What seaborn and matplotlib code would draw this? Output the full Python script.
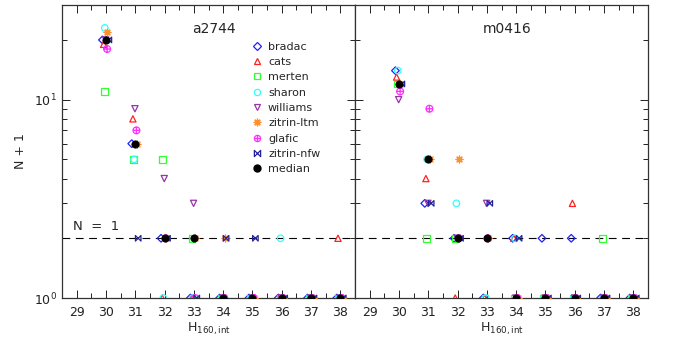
import numpy as np
import pandas as pd
import matplotlib
matplotlib.use("Agg")
import matplotlib.pyplot as plt
from matplotlib.path import Path
from matplotlib.lines import Line2D
from matplotlib.ticker import LogLocator, NullFormatter, MultipleLocator
import seaborn as sns

sns.set_style("ticks")
plt.rcParams['font.family'] = ['DejaVu Sans']

# ---------------- data (values are N + 1) ----------------
mags = [30, 31, 32, 33, 34, 35, 36, 37, 38]
models = ["bradac", "cats", "merten", "sharon", "williams",
          "zitrin-ltm", "glafic", "zitrin-nfw", "median"]

a2744 = {
    "bradac":     [20, 6, 2, 1, 1, 1, 1, 1, 1],
    "cats":       [19, 8, 1, 1, 1, 1, 1, 1, 2],
    "merten":     [11, 5, 5, 2, 1, 1, 1, 1, 1],
    "sharon":     [23, 5, 1, 1, 1, 1, 2, 1, 1],
    "williams":   [20, 9, 4, 3, 1, 1, 1, 1, 1],
    "zitrin-ltm": [22, 6, 2, 2, 2, 1, 1, 1, 1],
    "glafic":     [18, 7, 2, 1, 1, 1, 1, 1, 1],
    "zitrin-nfw": [20, 2, 2, 1, 2, 2, 1, 1, 1],
    "median":     [20, 6, 2, 2, 1, 1, 1, 1, 1],
}
m0416 = {
    "bradac":     [14, 3, 2, 1, 2, 2, 2, 1, 1],
    "cats":       [13, 4, 1, 1, 2, 1, 3, 1, 1],
    "merten":     [12, 2, 2, 1, 1, 1, 1, 2, 1],
    "sharon":     [14, 5, 3, 1, 2, 1, 1, 1, 1],
    "williams":   [10, 3, 2, 3, 1, 1, 1, 1, 1],
    "zitrin-ltm": [12, 5, 5, 2, 1, 1, 1, 1, 1],
    "glafic":     [11, 9, 2, 2, 1, 1, 1, 1, 1],
    "zitrin-nfw": [12, 3, 2, 3, 2, 1, 1, 1, 1],
    "median":     [12, 5, 2, 2, 1, 1, 1, 1, 1],
}
clusters = ["a2744", "m0416"]
xticks = [29, 30, 31, 32, 33, 34, 35, 36, 37, 38]

# ---------------- styles ----------------
oplus = Path.make_compound_path(
    Path.unit_circle(),
    Path([(-1, 0), (1, 0)], [Path.MOVETO, Path.LINETO]),
    Path([(0, -1), (0, 1)], [Path.MOVETO, Path.LINETO]))
bowtie = Path([(-1, -1), (-1, 1), (1, -1), (1, 1), (-1, -1)],
              [Path.MOVETO, Path.LINETO, Path.LINETO, Path.LINETO, Path.CLOSEPOLY])

style = {
    "bradac":     dict(marker="D", color="#2020ff", s=15, filled=False, dx=-0.12),
    "cats":       dict(marker="^", color="#ff2020", s=20, filled=False, dx=-0.08),
    "merten":     dict(marker="s", color="#30ff30", s=24, filled=False, dx=-0.06),
    "sharon":     dict(marker="o", color="#30ffff", s=22, filled=False, dx=-0.04),
    "williams":   dict(marker="v", color="#9933aa", s=20, filled=False, dx=-0.01),
    "zitrin-ltm": dict(marker=(8, 2, 0), color="#ff9030", s=24, filled="line", dx=0.05),
    "glafic":     dict(marker=oplus, color="#ff30ff", s=24, filled=False, dx=0.04),
    "zitrin-nfw": dict(marker=bowtie, color="#222299", s=16, filled=False, dx=0.10),
    "median":     dict(marker="o", color="black", s=28, filled=True, dx=0.0),
}

fig = plt.figure(figsize=(6.81, 3.40), dpi=100)
axL = fig.add_axes([62 / 681, 42 / 340, 293 / 681, 293 / 340])
axR = fig.add_axes([355 / 681, 42 / 340, 293 / 681, 293 / 340])

for ax, name, data in [(axL, "a2744", a2744), (axR, "m0416", m0416)]:
    ax.axhline(2, color="black", lw=0.8, ls=(0, (7, 5)), zorder=1)
    for m in models:
        st = style[m]
        df = pd.DataFrame({"x": np.array(mags) + st["dx"], "y": data[m]})
        if st["filled"] is True:
            kw = dict(facecolor=st["color"], edgecolor=st["color"], linewidth=0.5)
        elif st["filled"] == "line":
            kw = dict(facecolor=st["color"], edgecolor=st["color"], linewidth=0.9)
        else:
            kw = dict(facecolor="none", edgecolor=st["color"], linewidth=0.9)
        sns.scatterplot(data=df, x="x", y="y", marker=st["marker"], s=st["s"],
                        ax=ax, label=m, zorder=3, clip_on=True, legend=False, **kw)
    ax.set_yscale("log")
    ax.set_ylim(1, 30)
    ax.set_xlim(28.5, 38.5)
    ax.set_xticks(xticks)
    ax.xaxis.set_minor_locator(MultipleLocator(0.5))
    ax.yaxis.set_major_locator(LogLocator(base=10))
    ax.yaxis.set_minor_locator(LogLocator(base=10, subs=np.arange(2, 10)))
    ax.yaxis.set_minor_formatter(NullFormatter())
    ax.tick_params(which="both", direction="in", top=True, right=True,
                   labelsize=9, colors="#222222", width=0.7)
    ax.tick_params(which="major", length=6)
    ax.tick_params(which="minor", length=3.5)
    ax.tick_params(axis="x", pad=6)
    for sp in ax.spines.values():
        sp.set_color("#333333")
        sp.set_linewidth(0.9)
    ax.set_xlabel(r"H$_{\rm 160,int}$", fontsize=9, labelpad=1)
    ax.text(0.52, 0.918, name, transform=ax.transAxes, ha="center", va="center",
            fontsize=10)

axL.set_ylabel("N + 1", fontsize=9, labelpad=5)
axR.set_ylabel("")
axR.tick_params(axis="y", which="both", labelleft=False)
axL.text(28.88, 2.3, "N  =  1", fontsize=9.5, ha="left", va="center")

hs = []
for m in models:
    st = style[m]
    if st["filled"] is True:
        h = Line2D([], [], ls="none", marker=st["marker"], markersize=5,
                   markerfacecolor=st["color"], markeredgecolor=st["color"])
    elif st["filled"] == "line":
        h = Line2D([], [], ls="none", marker=st["marker"], markersize=5.5,
                   color=st["color"], markeredgewidth=0.9)
    else:
        h = Line2D([], [], ls="none", marker=st["marker"], markersize=4.5,
                   markerfacecolor="none", markeredgecolor=st["color"],
                   markeredgewidth=0.9)
    hs.append(h)
axL.legend(hs, models, loc="upper left", bbox_to_anchor=(0.65, 0.875),
           frameon=False, fontsize=8, handlelength=0.8, handletextpad=0.6,
           labelspacing=0.48, borderpad=0, borderaxespad=0)

fig.savefig("out.png", dpi=100)
